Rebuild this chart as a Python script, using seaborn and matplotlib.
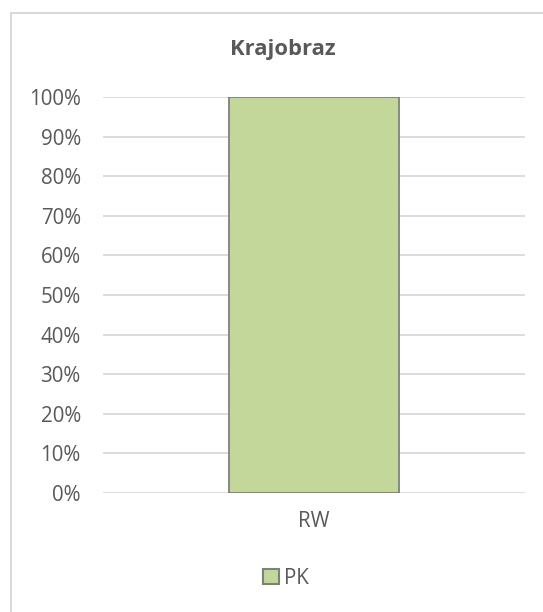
import matplotlib
matplotlib.use("Agg")
import matplotlib.pyplot as plt
import matplotlib.patches as mpatches
from matplotlib.ticker import PercentFormatter
import pandas as pd
import seaborn as sns

# Chart data
categories = ["RW"]
series_name = "PK"
values = [1.0]          # share (fraction of 100%)
y_ticks = [0.0, 0.1, 0.2, 0.3, 0.4, 0.5, 0.6, 0.7, 0.8, 0.9, 1.0]
title = "Krajobraz"

df = pd.DataFrame({"kategoria": categories, "udzial": values, "seria": [series_name] * len(categories)})

sns.set_theme(style="white")
plt.rcParams["font.family"] = ["Open Sans", "DejaVu Sans"]

TEXT = "#595959"
GRID = "#D9D9D9"
FILL = "#C4D79B"
EDGE = "#7F7F7F"

W, H = 543, 612
fig = plt.figure(figsize=(W / 100, H / 100), dpi=100)
fig.patch.set_facecolor("white")

ax = fig.add_axes([103 / W, 1 - 493 / H, (525 - 103) / W, (493 - 97) / H])

sns.barplot(data=df, x="kategoria", y="udzial", hue="seria",
            palette=[FILL], width=0.403, edgecolor=EDGE, linewidth=1.3,
            saturation=1, ax=ax, legend=False, zorder=3)

ax.set_xlim(-0.5, len(categories) - 0.5)
ax.set_ylim(0, 1)
ax.set_yticks(y_ticks)
ax.yaxis.set_major_formatter(PercentFormatter(xmax=1, decimals=0))
ax.grid(axis="y", color=GRID, linewidth=1.3, zorder=0)
ax.grid(axis="x", visible=False)
for s in ax.spines.values():
    s.set_visible(False)
ax.tick_params(axis="y", length=0, pad=16, labelsize=14.8, labelcolor=TEXT)
ax.tick_params(axis="x", length=0, pad=13, labelsize=14.8, labelcolor=TEXT)
ax.set_xlabel("")
ax.set_ylabel("")
ax.set_facecolor("white")

# chart title
fig.text(283 / W, 1 - 50 / H, title, ha="center", va="center",
         fontsize=15.8, fontweight="bold", color=TEXT)

# legend below the category axis
handle = mpatches.Patch(facecolor=FILL, edgecolor=EDGE, linewidth=1.5, label=series_name)
leg = fig.legend(handles=[handle], loc="center", bbox_to_anchor=(286 / W, 1 - 578 / H),
                 frameon=False, fontsize=14.8, handlelength=0.75, handleheight=0.75,
                 handletextpad=0.25, borderpad=0)
for t in leg.get_texts():
    t.set_color(TEXT)

# chart area border
fig.patches.append(mpatches.Rectangle((10.5 / W, -0.1), 1.2, 1 - 12.5 / H + 0.1,
                                      transform=fig.transFigure, fill=False,
                                      edgecolor=GRID, linewidth=1.5))

fig.savefig("out.png", dpi=100, facecolor="white")
